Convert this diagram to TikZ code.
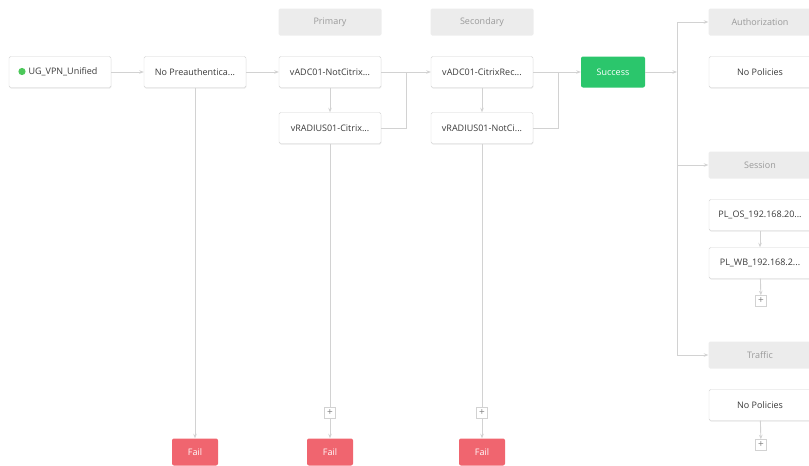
\documentclass[tikz,border=0pt]{standalone}
\usepackage{fontspec}
\setmainfont{Open Sans}
\usetikzlibrary{arrows.meta,shadows,positioning}

\definecolor{linegray}{HTML}{D2D2D2}
\definecolor{boxborder}{HTML}{D4D4D4}
\definecolor{headfill}{HTML}{ECECEC}
\definecolor{headtext}{HTML}{9A9A9A}
\definecolor{boxtext}{HTML}{3A3A3A}
\definecolor{okgreen}{HTML}{2BC66C}
\definecolor{failred}{HTML}{F0656F}
\definecolor{dotgreen}{HTML}{4CC85A}

\begin{document}
\begin{tikzpicture}[
    x=1pt,y=-1pt,
    box/.style={
        draw=boxborder,
        fill=white,
        rounded corners=1.5pt,
        minimum width=102pt,
        minimum height=31pt,
        text=boxtext,
        font=\fontsize{9}{10}\selectfont,
        drop shadow={shadow xshift=0.4pt,shadow yshift=-1pt,opacity=0.18}
      },
    header/.style={
        fill=headfill,
        rounded corners=1.5pt,
        minimum width=103pt,
        minimum height=27pt,
        text=headtext,
        font=\fontsize{9}{10}\selectfont
      },
    result/.style={
        rounded corners=2pt,
        text=white,
        minimum height=31pt,
        font=\fontsize{9}{10}\selectfont
      },
    plusbox/.style={
        draw=linegray,
        fill=white,
        minimum size=11pt,
        inner sep=0pt,
        text=gray,
        font=\fontsize{10}{10}\selectfont
      },
    link/.style={
        draw=linegray,
        line width=0.9pt
      },
    arrowlink/.style={
        link,
        -{Stealth[length=4.5pt,width=3.5pt]}
      }
  ]
  \useasboundingbox (0,0) rectangle (809,466);

  % Spaltenkoepfe
  \node[header] (primaryhead) at (330,22) {Primary};
  \node[header] (secondaryhead) at (482,22) {Secondary};
  \node[header] (authhead) at (760,22) {Authorization};
  \node[header] (sessionhead) at (760,165) {Session};
  \node[header] (traffichead) at (760,355) {Traffic};

  % Hauptkette
  \node[box] (vserver) at (60,72) {\hspace{6pt}UG\_VPN\_Unified};
  \fill[dotgreen] (22,71.5) circle (3.6pt);
  \node[box] (preauth) at (195,72) {No Preauthentica...};
  \node[box] (adcone) at (330,72) {vADC01-NotCitrix...};
  \node[box] (radone) at (330,128) {vRADIUS01-Citrix...};
  \node[box] (adctwo) at (482,72) {vADC01-CitrixRec...};
  \node[box] (radtwo) at (482,128) {vRADIUS01-NotCi...};
  \node[result,fill=okgreen,minimum width=64pt] (success) at (613,72) {Success};

  % Richtlinien rechts
  \node[box] (authpol) at (760,72) {No Policies};
  \node[box] (osprofile) at (760,215) {PL\_OS\_192.168.20...};
  \node[box] (wbprofile) at (760,263) {PL\_WB\_192.168.2...};
  \node[plusbox] (sessionplus) at (761,301) {+};
  \node[box] (trafficpol) at (760,405) {No Policies};
  \node[plusbox] (trafficplus) at (761,445) {+};

  % Fehlerausgaenge
  \node[plusbox] (primaryplus) at (330,413) {+};
  \node[plusbox] (secondaryplus) at (482,413) {+};
  \node[result,fill=failred,minimum width=46pt,minimum height=27pt] (failpre) at (195,452) {Fail};
  \node[result,fill=failred,minimum width=46pt,minimum height=27pt] (failprimary) at (330,452) {Fail};
  \node[result,fill=failred,minimum width=46pt,minimum height=27pt] (failsecondary) at (482,452) {Fail};

  % Knickpunkte
  \coordinate (primaryjoin) at (406,72);
  \coordinate (secondaryjoin) at (558,72);
  \coordinate (branchtop) at (677,22);
  \coordinate (branchbottom) at (677,355);

  % Verbindungen
  \draw[arrowlink] (vserver) -- (preauth);
  \draw[arrowlink] (preauth) -- (adcone);
  \draw[arrowlink] (adcone) -- (radone);
  \draw[link] (radone.east) -| (primaryjoin);
  \draw[arrowlink] (adcone) -- (adctwo);
  \draw[arrowlink] (adctwo) -- (radtwo);
  \draw[link] (radtwo.east) -| (secondaryjoin);
  \draw[arrowlink] (adctwo) -- (success);
  \draw[arrowlink] (success.east) -- (success.east -| branchtop);
  \draw[link] (branchtop) -- (branchbottom);
  \draw[arrowlink] (branchtop) -- (authhead);
  \draw[arrowlink] (sessionhead -| branchtop) -- (sessionhead);
  \draw[arrowlink] (branchbottom) -- (traffichead);
  \draw[arrowlink] (osprofile) -- (wbprofile);
  \draw[arrowlink] (wbprofile) -- (sessionplus);
  \draw[arrowlink] (trafficpol) -- (trafficplus);

  \draw[arrowlink] (preauth) -- (failpre);
  \draw[link] (radone) -- (primaryplus);
  \draw[arrowlink] (primaryplus) -- (failprimary);
  \draw[link] (radtwo) -- (secondaryplus);
  \draw[arrowlink] (secondaryplus) -- (failsecondary);

\end{tikzpicture}
\end{document}
